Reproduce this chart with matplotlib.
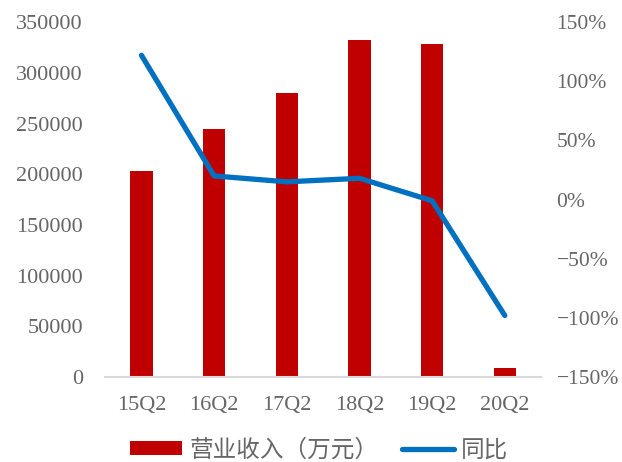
import matplotlib
matplotlib.use("Agg")
import matplotlib.pyplot as plt
from matplotlib.ticker import FuncFormatter

plt.rcParams['font.family'] = ['Liberation Serif', 'Noto Sans CJK SC', 'DejaVu Sans']

categories = ['15Q2', '16Q2', '17Q2', '18Q2', '19Q2', '20Q2']
revenue = [203500, 244500, 280000, 332500, 328500, 8900]
yoy = [122, 20, 15, 18, -1, -98]

red = '#C00000'
blue = '#0070C0'
grey = '#666666'

fig = plt.figure(figsize=(6.22, 4.62), dpi=100)
ax = fig.add_axes([0.169, 0.184, 0.701, 0.768])
x = list(range(len(categories)))
bars = ax.bar(x, revenue, width=0.31, color=red, label='营业收入（万元）', zorder=2)
ax.set_ylim(0, 350000)
ax.set_yticks(range(0, 350001, 50000))
ax.set_xlim(-0.5, len(categories) - 0.5)
ax.set_xticks(x)
ax.set_xticklabels(categories)
for s in ['top', 'right', 'left']:
    ax.spines[s].set_visible(False)
ax.spines['bottom'].set_color('#D9D9D9')
ax.spines['bottom'].set_linewidth(1.5)
ax.tick_params(axis='both', length=0, labelsize=16, labelcolor=grey)
ax.tick_params(axis='x', pad=14)
ax.tick_params(axis='y', pad=16)

ax2 = ax.twinx()
line, = ax2.plot(x, yoy, color=blue, linewidth=3.8, solid_capstyle='round',
                 solid_joinstyle='round', label='同比', zorder=3)
ax2.set_ylim(-150, 150)
ax2.set_yticks(range(-150, 151, 50))
ax2.yaxis.set_major_formatter(FuncFormatter(lambda v, p: f'{int(v)}%'.replace('-', '\u2212')))
for s in ['top', 'right', 'left', 'bottom']:
    ax2.spines[s].set_visible(False)
ax2.tick_params(axis='y', length=0, labelsize=15.5, labelcolor=grey, pad=11)

leg = fig.legend([bars, line], ['营业收入（万元）', '同比'], loc='lower center',
                 bbox_to_anchor=(0.513, -0.045), ncol=2, frameon=False,
                 fontsize=17, handlelength=2.2, handleheight=0.5,
                 columnspacing=1.0, handletextpad=0.3)
for t in leg.get_texts():
    t.set_color(grey)
    t.set_fontfamily(['Noto Sans CJK SC', 'DejaVu Sans'])

fig.savefig('out.png', dpi=100)
